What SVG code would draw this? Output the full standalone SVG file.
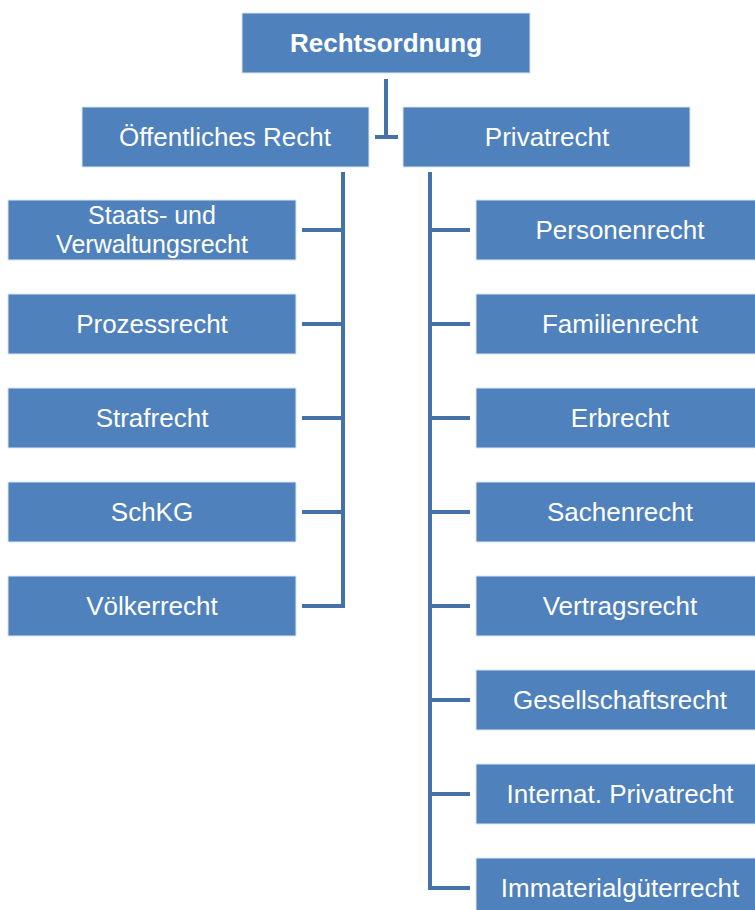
<svg xmlns="http://www.w3.org/2000/svg" width="755" height="910" viewBox="0 0 755 910">
<style>
.box{fill:#4F81BD;stroke:#DCE6F2;stroke-width:1}
.t{font-family:"Liberation Sans",Arial,sans-serif;font-size:26px;fill:#fff;text-anchor:middle;dominant-baseline:central}
.b{font-weight:bold}
.c{fill:none;stroke:#4472A8;stroke-width:4}
</style>
<rect width="755" height="910" fill="#fff"/>
<g id="connectors">
<path class="c" d="M386,79 V137 M375,137 H398"/>
<path class="c" d="M343,172 V606 H302 M302,230 H343 M302,324 H343 M302,418 H343 M302,512 H343"/>
<path class="c" d="M430,172 V888 H470 M430,230 H470 M430,324 H470 M430,418 H470 M430,512 H470 M430,606 H470 M430,700 H470 M430,794 H470"/>
</g>
<g id="rechtsordnung"><rect class="box" x="242" y="13" width="288" height="60"/><text class="t b" x="386" y="43">Rechtsordnung</text></g>
<g id="oeffentliches"><rect class="box" x="82" y="107" width="287" height="60"/><text class="t" x="225" y="137">Öffentliches Recht</text></g>
<g id="privatrecht"><rect class="box" x="403" y="107" width="287" height="60"/><text class="t" x="547" y="137">Privatrecht</text></g>
<g id="staats"><rect class="box" x="8" y="200" width="288" height="60"/><text class="t" x="152" y="215" style="font-size:25px">Staats- und</text><text class="t" x="152" y="244" style="font-size:25px">Verwaltungsrecht</text></g>
<g id="prozess"><rect class="box" x="8" y="294" width="288" height="60"/><text class="t" x="152" y="324">Prozessrecht</text></g>
<g id="straf"><rect class="box" x="8" y="388" width="288" height="60"/><text class="t" x="152" y="418">Strafrecht</text></g>
<g id="schkg"><rect class="box" x="8" y="482" width="288" height="60"/><text class="t" x="152" y="512">SchKG</text></g>
<g id="voelker"><rect class="box" x="8" y="576" width="288" height="60"/><text class="t" x="152" y="606">Völkerrecht</text></g>
<g id="personen"><rect class="box" x="476" y="200" width="288" height="60"/><text class="t" x="620" y="230">Personenrecht</text></g>
<g id="familien"><rect class="box" x="476" y="294" width="288" height="60"/><text class="t" x="620" y="324">Familienrecht</text></g>
<g id="erb"><rect class="box" x="476" y="388" width="288" height="60"/><text class="t" x="620" y="418">Erbrecht</text></g>
<g id="sachen"><rect class="box" x="476" y="482" width="288" height="60"/><text class="t" x="620" y="512">Sachenrecht</text></g>
<g id="vertrag"><rect class="box" x="476" y="576" width="288" height="60"/><text class="t" x="620" y="606">Vertragsrecht</text></g>
<g id="gesellschaft"><rect class="box" x="476" y="670" width="288" height="60"/><text class="t" x="620" y="700">Gesellschaftsrecht</text></g>
<g id="ipr"><rect class="box" x="476" y="764" width="288" height="60"/><text class="t" x="620" y="794">Internat. Privatrecht</text></g>
<g id="immaterial"><rect class="box" x="476" y="858" width="288" height="60"/><text class="t" x="620" y="888">Immaterialgüterrecht</text></g>
</svg>
